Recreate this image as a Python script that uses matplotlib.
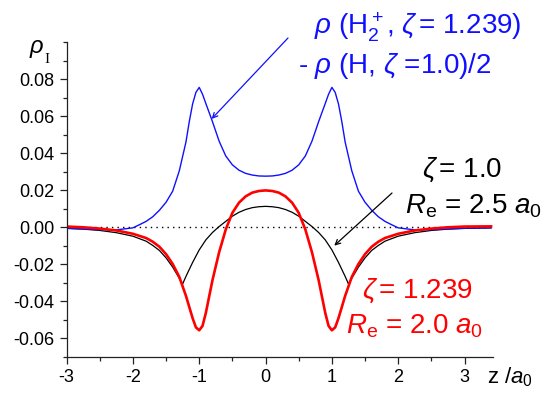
import numpy as np
import matplotlib.pyplot as plt
from matplotlib.ticker import MultipleLocator, FormatStrFormatter

plt.rcParams['font.family'] = ['Liberation Sans', 'DejaVu Sans']
plt.rcParams['mathtext.fontset'] = 'custom'
plt.rcParams['mathtext.rm'] = 'Liberation Sans'
plt.rcParams['mathtext.it'] = 'Liberation Sans:italic'
plt.rcParams['axes.unicode_minus'] = False

# blue: rho(H2+, zeta=1.239) - rho(H, zeta=1.0)/2
blue_z = [-3.0, -2.75, -2.5, -2.25, -2.0, -1.9, -1.8, -1.7, -1.6, -1.5, -1.4, -1.3, -1.2,
          -1.15, -1.1, -1.05, -1.0, -0.95, -0.9, -0.8, -0.7, -0.6, -0.5, -0.4, -0.3, -0.2,
          -0.1, 0.0, 0.1, 0.2, 0.3, 0.4, 0.5, 0.6, 0.7, 0.8, 0.9, 0.95, 1.0, 1.05, 1.1,
          1.15, 1.2, 1.3, 1.4, 1.5, 1.6, 1.7, 1.8, 1.9, 2.0, 2.25, 2.5, 2.75, 3.0, 3.4]
blue_rho = [-0.0005, -0.0009, -0.0013, -0.0014, -0.0003, 0.0014, 0.0032, 0.0057, 0.0092,
            0.0135, 0.0195, 0.0305, 0.0460, 0.0570, 0.0665, 0.0728, 0.0755, 0.0718, 0.0668,
            0.0570, 0.0465, 0.0385, 0.0337, 0.0308, 0.0291, 0.0282, 0.0277, 0.0276, 0.0277,
            0.0282, 0.0291, 0.0308, 0.0337, 0.0385, 0.0465, 0.0570, 0.0668, 0.0718, 0.0755,
            0.0728, 0.0665, 0.0570, 0.0460, 0.0305, 0.0195, 0.0135, 0.0092, 0.0057, 0.0032,
            0.0014, -0.0003, -0.0014, -0.0013, -0.0009, -0.0005, -0.0003]

# black: zeta = 1.0, Re = 2.5 a0
black_z = [-3.0, -2.75, -2.5, -2.25, -2.0, -1.8, -1.7, -1.6, -1.5, -1.4, -1.3, -1.25, -1.2,
           -1.1, -1.0, -0.9, -0.8, -0.7, -0.6, -0.5, -0.4, -0.3, -0.2, -0.1, 0.0, 0.1, 0.2,
           0.3, 0.4, 0.5, 0.6, 0.7, 0.8, 0.9, 1.0, 1.1, 1.2, 1.25, 1.3, 1.4, 1.5, 1.6, 1.7,
           1.8, 2.0, 2.25, 2.5, 2.75, 3.0, 3.4]
black_rho = [-0.0006, -0.0010, -0.0017, -0.0029, -0.0048, -0.0075, -0.0098, -0.0125,
             -0.0165, -0.0215, -0.0275, -0.0306, -0.0265, -0.0190, -0.0122, -0.0068,
             -0.0028, 0.0004, 0.0032, 0.0060, 0.0081, 0.0096, 0.0106, 0.0111, 0.0113,
             0.0111, 0.0106, 0.0096, 0.0081, 0.0060, 0.0032, 0.0004, -0.0028, -0.0068,
             -0.0122, -0.0190, -0.0265, -0.0306, -0.0275, -0.0215, -0.0165, -0.0125,
             -0.0098, -0.0075, -0.0048, -0.0029, -0.0017, -0.0010, -0.0006, -0.0003]

# red: zeta = 1.239, Re = 2.0 a0
red_z = [-3.0, -2.75, -2.5, -2.25, -2.0, -1.8, -1.7, -1.6, -1.5, -1.4, -1.3, -1.2, -1.1,
         -1.05, -1.0, -0.95, -0.9, -0.8, -0.7, -0.6, -0.5, -0.4, -0.3, -0.2, -0.1, 0.0, 0.1,
         0.2, 0.3, 0.4, 0.5, 0.6, 0.7, 0.8, 0.9, 0.95, 1.0, 1.05, 1.1, 1.2, 1.3, 1.4, 1.5,
         1.6, 1.7, 1.8, 2.0, 2.25, 2.5, 2.75, 3.0, 3.4]
red_rho = [0.0004, 0.0000, -0.0007, -0.0017, -0.0035, -0.0058, -0.0078, -0.0105, -0.0145,
           -0.0198, -0.0268, -0.0370, -0.0490, -0.0540, -0.0556, -0.0532, -0.0462, -0.0285,
           -0.0135, -0.0012, 0.0078, 0.0133, 0.0167, 0.0187, 0.0196, 0.0199, 0.0196, 0.0187,
           0.0167, 0.0133, 0.0078, -0.0012, -0.0135, -0.0285, -0.0462, -0.0532, -0.0556,
           -0.0540, -0.0490, -0.0370, -0.0268, -0.0198, -0.0145, -0.0105, -0.0078, -0.0058,
           -0.0035, -0.0017, -0.0007, 0.0000, 0.0004, 0.0005]

fig = plt.figure(figsize=(5.5, 4), dpi=100)
ax = fig.add_axes([0.121, 0.1075, 0.7755, 0.7875])

ax.axhline(0, color='black', linestyle=(0, (1, 3)), linewidth=1.0, xmin=0, xmax=0.985)
ax.plot(black_z, black_rho, color='black', linewidth=0.9)
ax.plot(blue_z, blue_rho, color='#1010ff', linewidth=1.0)
ax.plot(red_z, red_rho, color='#ff0000', linewidth=1.9)

ax.set_xlim(-3, 3.43)
ax.set_ylim(-0.07, 0.1)
ax.set_xticks([-3, -2, -1, 0, 1, 2, 3])
ax.set_yticks([-0.06, -0.04, -0.02, 0.0, 0.02, 0.04, 0.06, 0.08])
ax.xaxis.set_minor_locator(MultipleLocator(0.5))
ax.yaxis.set_minor_locator(MultipleLocator(0.01))
ax.yaxis.set_major_formatter(FormatStrFormatter('%.2f'))
ax.tick_params(which='major', direction='out', length=5, width=0.9, labelsize=13,
               color='#222222', pad=4)
ax.tick_params(which='minor', direction='out', length=3, width=0.9, color='#222222')
for s in ['top', 'right']:
    ax.spines[s].set_visible(False)
for s in ['left', 'bottom']:
    ax.spines[s].set_linewidth(0.9)
    ax.spines[s].set_color('#222222')

W, H = 550.0, 400.0
def ftext(x, y, s, **kw):
    fig.text(x / W, 1 - y / H, s, ha='left', va='baseline', **kw)

# axis labels
ftext(29, 53, r'$\rho$', size=17)
ftext(44, 63, 'I', size=11, family='Liberation Serif')
ftext(487, 383, r'z /$a_0$', size=16)

# blue annotation
ftext(314, 35, r'$\rho$ (H$_2^+$, $\zeta\,$= 1.239)', size=20, color='#1010ff')
ftext(298, 73, r'- $\rho$ (H, $\zeta$ =1.0)/2', size=20, color='#1010ff')
ax.annotate('', xy=(-0.813, 0.0585), xycoords='data',
            xytext=(288 / W, 1 - 38 / H), textcoords='figure fraction',
            arrowprops=dict(arrowstyle='->', color='#1010ff', lw=0.9,
                            shrinkA=0, shrinkB=0, mutation_scale=9))

# black annotation
ftext(422, 176.5, r'$\zeta\,$= 1.0', size=20, color='black')
ftext(405, 213, r'$R_\mathrm{e}$ = 2.5 $a_0$', size=20, color='black')
ax.annotate('', xy=(1.036, -0.0099), xycoords='data',
            xytext=(392 / W, 1 - 193 / H), textcoords='figure fraction',
            arrowprops=dict(arrowstyle='->', color='black', lw=0.9,
                            shrinkA=0, shrinkB=0, mutation_scale=9))

# red annotation
ftext(362, 298, r'$\zeta\,$= 1.239', size=20, color='#ff0000')
ftext(346, 334, r'$R_\mathrm{e}$ = 2.0 $a_0$', size=20, color='#ff0000')

fig.savefig('out.png', dpi=100)
